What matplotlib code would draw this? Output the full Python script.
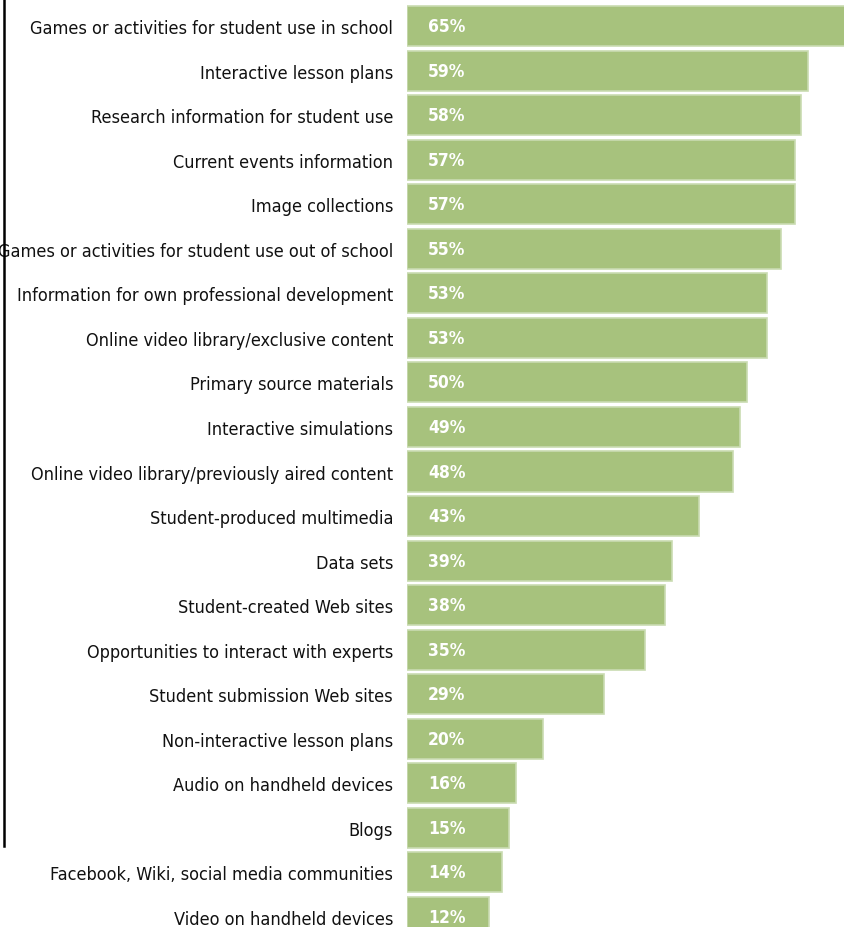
import matplotlib
matplotlib.use("Agg")
import matplotlib.pyplot as plt
from matplotlib.lines import Line2D

CATEGORIES = [
    "Games or activities for student use in school",
    "Interactive lesson plans",
    "Research information for student use",
    "Current events information",
    "Image collections",
    "Games or activities for student use out of school",
    "Information for own professional development",
    "Online video library/exclusive content",
    "Primary source materials",
    "Interactive simulations",
    "Online video library/previously aired content",
    "Student-produced multimedia",
    "Data sets",
    "Student-created Web sites",
    "Opportunities to interact with experts",
    "Student submission Web sites",
    "Non-interactive lesson plans",
    "Audio on handheld devices",
    "Blogs",
    "Facebook, Wiki, social media communities",
    "Video on handheld devices",
]
VALUES = [65, 59, 58, 57, 57, 55, 53, 53, 50, 49, 48, 43, 39, 38, 35, 29, 20, 16, 15, 14, 12]

BAR = "#a7c27d"
EDGE = "#c9dbb1"

W, H = 844, 928
fig = plt.figure(figsize=(W / 100, H / 100), dpi=100)
x0 = 407
ax = fig.add_axes([x0 / W, 0, 1 - x0 / W, 1])
ax.set_xlim(0, (W - x0) / 6.8)          # 6.8 px per percent, 65% runs off the edge
row0, step = 27, 44.55
ax.set_ylim((H - row0) / step, -row0 / step)

ypos = list(range(len(CATEGORIES)))
ax.barh(ypos, VALUES, height=0.9, color=BAR, edgecolor=EDGE, linewidth=1.2)
for y, v in zip(ypos, VALUES):
    ax.text(3.1, y, f"{v}%", color="white", fontsize=12.5, fontweight="bold",
            fontstretch="condensed", va="center", ha="left")

ax.set_yticks(ypos)
ax.set_yticklabels(CATEGORIES, fontsize=13, fontstretch="condensed", color="#111111")
ax.tick_params(axis="y", length=0, pad=10)
ax.set_xticks([])
for s in ax.spines.values():
    s.set_visible(False)

# black rule at the left edge
fig.add_artist(Line2D([4 / W, 4 / W], [1, 1 - 847 / H], color="black", lw=1.8,
                      transform=fig.transFigure))

fig.savefig("out.png", dpi=100)
